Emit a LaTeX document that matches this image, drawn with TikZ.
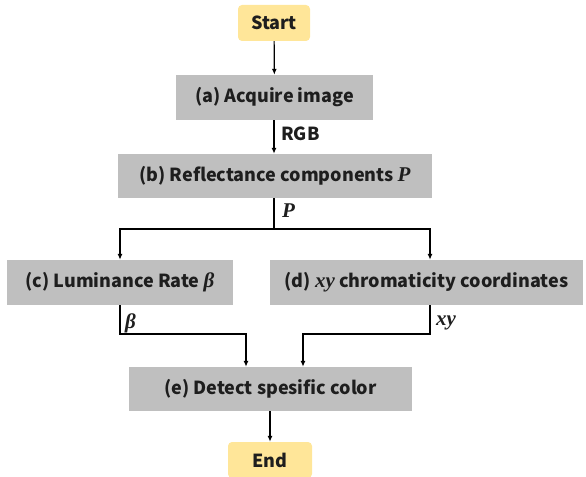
\documentclass[tikz,border=0pt]{standalone}
\usepackage{fontspec}
\setmainfont{Noto Sans CJK JP}
\newfontfamily\symserif{Liberation Serif}
\newcommand{\bsym}[1]{{\fontsize{21bp}{21bp}\symserif\bfseries\itshape #1}}
\usetikzlibrary{arrows.meta}
\definecolor{boxgray}{HTML}{BFBFBF}
\definecolor{termyellow}{HTML}{FFE699}
\definecolor{txt}{HTML}{1E1E1E}
\begin{document}
\begin{tikzpicture}[x=1bp,y=-1bp,
  every node/.style={text=txt,font=\fontsize{18bp}{21bp}\selectfont\bfseries,inner sep=0pt},
  procbox/.style={fill=boxgray,minimum height=45bp},
  termbox/.style={fill=termyellow,rounded corners=4bp,minimum height=36bp},
  flow/.style={line width=1.2bp,draw=black,-{Latex[length=6bp,width=5bp]}},
  plain/.style={line width=1.2bp,draw=black},
  lbl/.style={anchor=west}]
\useasboundingbox (0,0) rectangle (586,477);
\node[termbox,minimum width=72bp] (start) at (274,23) {Start};
\node[procbox,minimum width=197bp] (a) at (274.5,97.5) {(a) Acquire image};
\node[procbox,minimum width=314bp,minimum height=44bp] (b) at (275,176) {(b) Reflectance components \bsym{P}};
\node[procbox,minimum width=226bp] (c) at (120,282.5) {(c) Luminance Rate \bsym{β}};
\node[procbox,minimum width=313bp] (d) at (426.5,282.5) {(d) \bsym{xy} chromaticity coordinates};
\node[procbox,minimum width=283bp,minimum height=44bp] (e) at (270.5,389) {(e) Detect spesific color};
\node[termbox,minimum width=84bp] (end) at (270,460) {End};
\coordinate (split) at (274,229);
\coordinate (cL) at (120,229);
\coordinate (dR) at (430,229);
\coordinate (cJ) at (120,334);
\coordinate (cJ2) at (246,334);
\coordinate (dJ) at (430,334);
\coordinate (dJ2) at (303,334);
\draw[flow] (start) -- (a);
\draw[flow] (a.south -| 274,0) -- (b.north -| 274,0);
\node[lbl] (rgb) at (281,134) {RGB};
\draw[plain] (b.south -| split) -- (split);
\node[lbl] (pl) at (282,211) {\bsym{P}};
\draw[flow] (split) -- (cL) -- (c.north);
\draw[flow] (split) -- (dR) -- (d.north -| dR);
\draw[flow] (c.south) -- (cJ) -- (cJ2) -- (e.north -| cJ2);
\node[lbl] (bl) at (125,323) {\bsym{β}};
\draw[flow] (d.south -| dR) -- (dJ) -- (dJ2) -- (e.north -| dJ2);
\node[lbl] (xyl) at (436,323) {\bsym{xy}};
\draw[flow] (e.south -| end) -- (end);
\end{tikzpicture}
\end{document}
